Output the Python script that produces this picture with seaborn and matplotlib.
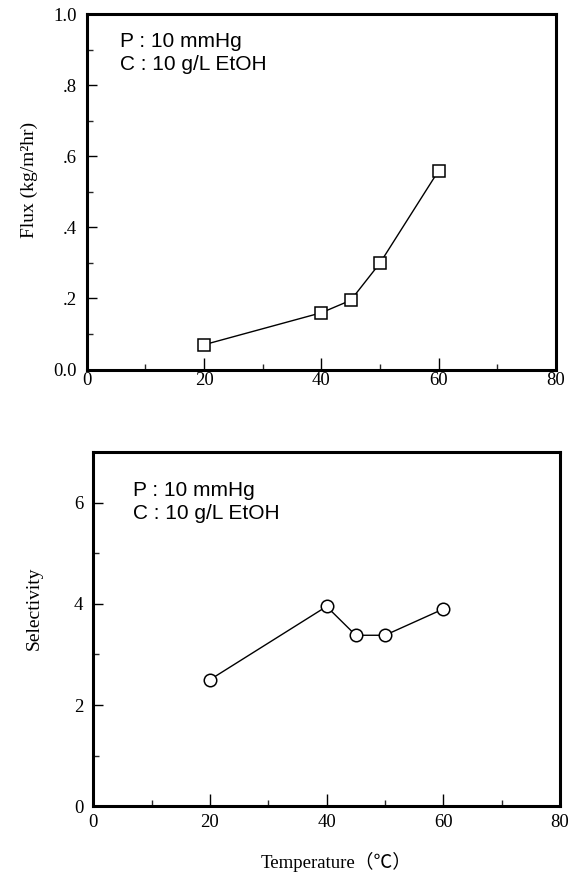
import matplotlib
matplotlib.use("Agg")
import matplotlib.pyplot as plt
from matplotlib.ticker import MultipleLocator, FixedLocator
import pandas as pd
import seaborn as sns

# --- data ---
temperature = [20, 40, 45, 50, 60]
flux = [0.07, 0.16, 0.195, 0.30, 0.56]
selectivity = [2.5, 3.95, 3.38, 3.38, 3.9]

flux_ticks = [0.0, 0.2, 0.4, 0.6, 0.8, 1.0]
flux_tick_labels = ["0.0", ".2", ".4", ".6", ".8", "1.0"]
sel_ticks = [0, 2, 4, 6]
x_ticks = [0, 20, 40, 60, 80]
conditions = "P : 10 mmHg\nC : 10 g/L EtOH"

sns.set_style("ticks")
plt.rcParams["font.family"] = ["Liberation Serif", "Noto Sans CJK SC", "DejaVu Sans"]
plt.rcParams["text.color"] = "black"
plt.rcParams["axes.labelcolor"] = "black"

df = pd.DataFrame({"T": temperature, "flux": flux, "sel": selectivity})

fig = plt.figure(figsize=(5.75, 8.8), dpi=100)
ax1 = fig.add_axes([0.151, 0.580, 0.816, 0.404])
ax2 = fig.add_axes([0.162, 0.084, 0.812, 0.402])

marker_kw = dict(color="black", linewidth=1.0, markerfacecolor="white",
                 markeredgecolor="black", markeredgewidth=1.1, markersize=9)

sns.lineplot(data=df, x="T", y="flux", ax=ax1, marker="s", **marker_kw)
sns.lineplot(data=df, x="T", y="sel", ax=ax2, marker="o", **marker_kw)


def style_axes(ax, xpad):
    for sp in ax.spines.values():
        sp.set_visible(True)
        sp.set_linewidth(2.2)
        sp.set_color("black")
    ax.set_xlim(0, 80)
    ax.xaxis.set_major_locator(FixedLocator(x_ticks))
    ax.xaxis.set_minor_locator(MultipleLocator(10))
    ax.tick_params(which="major", direction="in", length=9, width=1.0,
                   labelsize=13.5, colors="black")
    ax.tick_params(which="minor", direction="in", length=4, width=1.0)
    ax.tick_params(axis="y", which="major", length=7, pad=7)
    ax.tick_params(axis="x", which="major", pad=xpad)
    ax.set_xlabel("")


style_axes(ax1, 2)
ax1.set_ylim(0, 1.0)
ax1.set_yticks(flux_ticks)
ax1.set_yticklabels(flux_tick_labels)
ax1.yaxis.set_minor_locator(MultipleLocator(0.1))
ax1.set_ylabel("Flux (kg/m²hr)", fontsize=14)
ax1.yaxis.set_label_coords(-0.104, 0.534)
ax1.text(0.07, 0.95, conditions, transform=ax1.transAxes, va="top", ha="left",
         fontsize=15, family="Liberation Sans", linespacing=1.25)

style_axes(ax2, 6)
ax2.set_ylim(0, 7)
ax2.set_yticks(sel_ticks)
ax2.yaxis.set_minor_locator(MultipleLocator(1))
ax2.set_ylabel("Selectivity", fontsize=14)
ax2.yaxis.set_label_coords(-0.107, 0.56)
ax2.text(0.086, 0.918, conditions, transform=ax2.transAxes, va="top", ha="left",
         fontsize=15, family="Liberation Sans", linespacing=1.25)

fig.text(0.584, 0.021, "Temperature（℃）", ha="center", va="center", fontsize=13.5)

fig.savefig("out.png", dpi=100)
